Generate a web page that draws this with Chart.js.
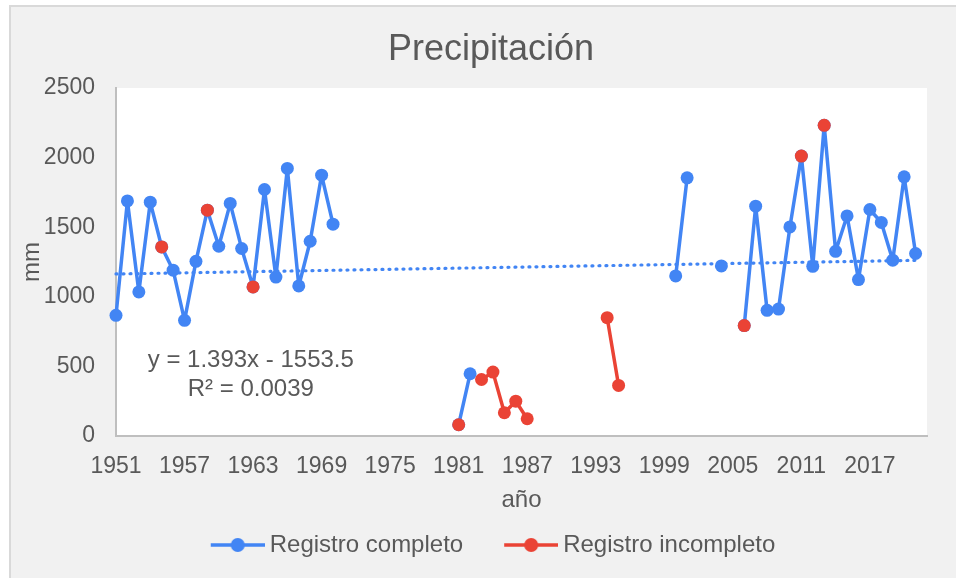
<!DOCTYPE html>
<html>
<head>
<meta charset="utf-8">
<script src="https://cdn.jsdelivr.net/npm/chart.js@4/dist/chart.umd.min.js"></script>
<style>
  html, body { margin:0; padding:0; width:956px; height:578px; overflow:hidden; background:#ffffff; }
  #frame { position:absolute; left:9px; top:5px; width:947px; height:573px; box-sizing:border-box;
           border-left:2px solid #d9d9d9; border-top:2px solid #d9d9d9; background:#f1f1f1; }
  #c { position:absolute; left:0; top:0; }
</style>
</head>
<body>
<div id="frame"></div>
<canvas id="c" width="982" height="578"></canvas>
<script>
// ---- data ----
const years = [1951,1952,1953,1954,1955,1956,1957,1958,1959,1960,
  1961,1962,1963,1964,1965,1966,1967,1968,1969,1970,
  1971,1972,1973,1974,1975,1976,1977,1978,1979,1980,
  1981,1982,1983,1984,1985,1986,1987,1988,1989,1990,
  1991,1992,1993,1994,1995,1996,1997,1998,1999,2000,
  2001,2002,2003,2004,2005,2006,2007,2008,2009,2010,
  2011,2012,2013,2014,2015,2016,2017,2018,2019,2020,2021];

const registroCompleto = [867,1689,1035,1680,1358,1191,831,1255,1622,1363,
  1671,1347,1071,1771,1142,1922,1078,1399,1874,1522,
  null,null,null,null,null,null,null,null,null,null,
  81,447,null,null,null,null,null,null,null,null,
  null,null,null,null,null,null,null,null,null,1150,
  1855,null,null,1222,null,793,1651,903,912,1502,
  2011,1219,2232,1327,1581,1124,1627,1534,1263,1862,1311];

const registroIncompleto = [null,null,null,null,1358,null,null,null,1622,null,
  null,null,1071,null,null,null,null,null,null,null,
  null,null,null,null,null,null,null,null,null,null,
  81,null,406,459,167,250,124,null,null,null,
  null,null,null,850,363,null,null,null,null,null,
  null,null,null,null,null,793,null,null,null,null,
  2011,null,2232,null,null,null,null,null,null,null,null];

const trendYears = [1951, 2021];
const trendValues = [1164, 1262];

const xTickYears = [1951,1957,1963,1969,1975,1981,1987,1993,1999,2005,2011,2017];
const yTicks = [0,500,1000,1500,2000,2500];

const equationLines = ['y = 1.393x - 1553.5', 'R² = 0.0039'];
const equationAt = { x: 1962.8, y: [540, 337] };

const BLUE = '#4285F4', RED = '#EA4335', TEXT = '#595959';

// ---- legend icons (line with a dot) ----
function makeIcon(color) {
  const c = document.createElement('canvas');
  c.width = 65; c.height = 16;
  const g = c.getContext('2d');
  g.strokeStyle = color; g.lineWidth = 3.5;
  g.beginPath(); g.moveTo(11, 8); g.lineTo(65, 8); g.stroke();
  g.fillStyle = color;
  g.beginPath(); g.arc(38, 8, 7, 0, Math.PI * 2); g.fill();
  return c;
}
const legendIcons = [makeIcon(BLUE), makeIcon(RED)];

Chart.defaults.font.family = "'Liberation Sans', Arial, sans-serif";
Chart.defaults.color = TEXT;

const plotBg = {
  id: 'plotBg',
  beforeDraw(chart) {
    const { ctx, chartArea: a } = chart;
    ctx.save();
    ctx.fillStyle = '#ffffff';
    ctx.fillRect(a.left, a.top, a.right - a.left, a.bottom - a.top);
    ctx.restore();
  }
};

const equation = {
  id: 'equation',
  afterDatasetsDraw(chart) {
    const { ctx, scales } = chart;
    ctx.save();
    ctx.font = "24px 'Liberation Sans', Arial, sans-serif";
    ctx.fillStyle = TEXT;
    ctx.textAlign = 'center';
    ctx.textBaseline = 'middle';
    const px = scales.x.getPixelForValue(equationAt.x);
    equationLines.forEach((t, i) => ctx.fillText(t, px, scales.y.getPixelForValue(equationAt.y[i])));
    ctx.restore();
  }
};

const toPts = arr => years.map((x, i) => ({ x, y: arr[i] }));

new Chart(document.getElementById('c'), {
  type: 'line',
  data: {
    datasets: [
      { label: 'Registro completo', data: toPts(registroCompleto), borderColor: BLUE, backgroundColor: BLUE,
        borderWidth: 3.5, borderJoinStyle: 'round', borderCapStyle: 'round',
        pointRadius: 6.5, pointBorderWidth: 0, pointBackgroundColor: BLUE,
        spanGaps: false, clip: false, order: 1 },
      { label: 'Registro incompleto', data: toPts(registroIncompleto), borderColor: RED, backgroundColor: RED,
        borderWidth: 3.5, borderJoinStyle: 'round', borderCapStyle: 'round',
        pointRadius: 6.5, pointBorderWidth: 0, pointBackgroundColor: RED,
        spanGaps: false, clip: false, order: 0 },
      { label: 'Tendencia', data: trendYears.map((x, i) => ({ x, y: trendValues[i] })), borderColor: BLUE,
        borderWidth: 3.2, borderDash: [1, 6], borderCapStyle: 'round', pointRadius: 0, clip: false, order: 2 }
    ]
  },
  options: {
    responsive: false,
    animation: false,
    devicePixelRatio: 1,
    layout: { padding: { left: 0, right: 0, top: 0, bottom: 11 } },
    plugins: {
      tooltip: { enabled: false },
      title: {
        display: true, text: 'Precipitación', color: TEXT,
        font: { size: 36, weight: 'normal' },
        padding: { top: 28, bottom: 16.8 }
      },
      legend: {
        position: 'bottom',
        labels: {
          usePointStyle: true, pointStyleWidth: 51, padding: 37,
          color: TEXT, font: { size: 24 },
          filter: item => item.datasetIndex < 2,
          sort: (a, b) => a.datasetIndex - b.datasetIndex,
          generateLabels(chart) {
            const items = Chart.defaults.plugins.legend.labels.generateLabels(chart);
            items.forEach(it => { if (legendIcons[it.datasetIndex]) it.pointStyle = legendIcons[it.datasetIndex]; });
            return items;
          }
        }
      }
    },
    scales: {
      x: {
        type: 'linear', min: 1951, max: 2022,
        grid: { display: false, drawTicks: false },
        border: { display: true, color: '#bfbfbf', width: 2 },
        ticks: { font: { size: 23 }, color: TEXT, padding: 17, maxRotation: 0, autoSkip: false,
                 callback: v => String(v) },
        afterBuildTicks: s => { s.ticks = xTickYears.map(v => ({ value: v })); },
        afterFit: s => { s.height = 60; },
        title: { display: true, text: 'año', color: TEXT, font: { size: 24 }, padding: { top: 0, bottom: -18.4 } }
      },
      y: {
        type: 'linear', min: 0, max: 2500,
        grid: { display: false, drawTicks: false },
        border: { display: true, color: '#bfbfbf', width: 2 },
        ticks: { font: { size: 23 }, color: TEXT, padding: 21, stepSize: 500, callback: v => String(v) },
        afterBuildTicks: s => { s.ticks = yTicks.map(v => ({ value: v })); },
        afterFit: s => { s.width = 116; },
        title: { display: true, text: 'mm', color: TEXT, font: { size: 24 }, padding: { top: 18.3, bottom: 0 } }
      },
      y2: {
        type: 'linear', position: 'right', display: true,
        grid: { display: false, drawTicks: false },
        border: { display: false },
        ticks: { display: false },
        afterFit: s => { s.width = 55; }
      }
    }
  },
  plugins: [plotBg, equation]
});
</script>
</body>
</html>
